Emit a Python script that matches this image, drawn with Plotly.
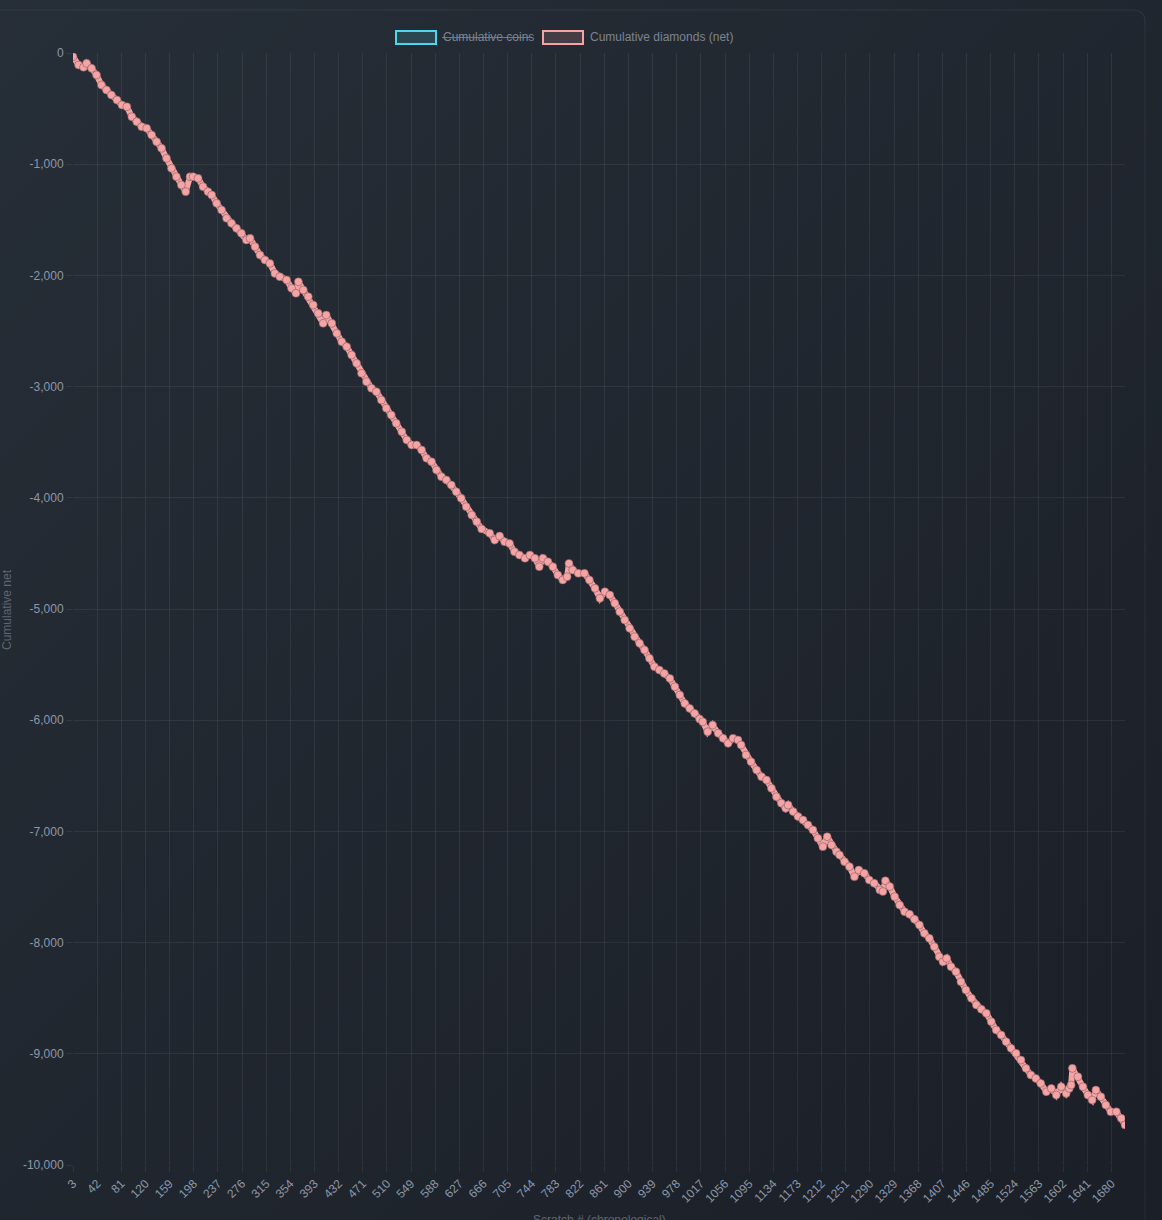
import base64
import plotly.graph_objects as go

# ---- data ----
scratch = [3, 12, 20, 25, 33, 41, 49, 57, 65, 74, 82, 90, 98, 106, 114, 122, 130, 138, 146, 154,
           162, 170, 178, 185, 192, 197, 205, 213, 221, 227, 235, 243, 251, 259, 267, 275, 283, 289, 297, 305,
           313, 321, 329, 337,
           348, 356, 363, 367, 375, 383, 391, 399, 407, 412, 421, 429, 437, 445, 453, 461, 469, 477, 485, 493,
           501, 509, 517, 525, 534, 542, 550, 558, 566, 574, 582, 590, 598, 606, 614, 622, 630, 638, 647, 655, 663,
           676, 684, 692, 700, 708, 716, 724, 733, 741, 749, 756, 762, 770, 778, 786, 794, 801, 804, 810, 819,
           829, 837, 846, 854, 862, 870, 878, 886, 894, 902, 910, 918, 926, 934, 942, 950, 958, 967, 975, 983,
           991, 999, 1007,
           1015, 1020, 1028, 1036, 1045, 1053, 1061, 1069, 1077, 1082, 1090, 1098, 1107, 1115, 1123, 1131, 1139,
           1147, 1154, 1158, 1166, 1174, 1182, 1190, 1198, 1206, 1214, 1221, 1228, 1236, 1241, 1249, 1257, 1265,
           1272, 1281, 1289, 1297, 1306, 1311, 1315, 1322, 1330, 1338, 1346,
           1354, 1362, 1370, 1378, 1386, 1394, 1402, 1408, 1414, 1421, 1429, 1437, 1445, 1454, 1462, 1470, 1478,
           1486, 1494, 1502, 1510, 1518, 1526, 1534, 1542, 1550, 1558, 1566, 1575, 1583, 1591, 1599, 1607, 1612,
           1615, 1617, 1626, 1634, 1642, 1649, 1655, 1663, 1671, 1679, 1688, 1696, 1702]

cum_diamonds = [-33, -108, -129, -93, -138, -198, -288, -333, -378, -423,
                -468, -483, -573, -618, -663, -677, -737, -798, -857, -947,
                -1037, -1112, -1187, -1247, -1112, -1112, -1127, -1202, -1247, -1277,
                -1352, -1412, -1487, -1532, -1577, -1622, -1682, -1667, -1742, -1817,
                -1862, -1892, -1982, -2012,
                -2041, -2116, -2161, -2057, -2131, -2191, -2266, -2341, -2431, -2356,
                -2431, -2521, -2596, -2641, -2716, -2791, -2881, -2956, -3015, -3046,
                -3121, -3195, -3256, -3330, -3406, -3480, -3525, -3525, -3570, -3645,
                -3675, -3750, -3810, -3840, -3885, -3945, -4005, -4080, -4155, -4215, -4280,
                -4319, -4380, -4344, -4395, -4410, -4485, -4515, -4544, -4515, -4544,
                -4620, -4544, -4575, -4620, -4694, -4739, -4710, -4590, -4649, -4679,
                -4679, -4739, -4814, -4904, -4844, -4874, -4949, -5024, -5099, -5174,
                -5249, -5309, -5369, -5444, -5519, -5549, -5579, -5624, -5699, -5774,
                -5849, -5894, -5939,
                -5990, -6014, -6104, -6044, -6118, -6163, -6208, -6163, -6178, -6223,
                -6313, -6373, -6448, -6508, -6538, -6613, -6688, -6747, -6792, -6763,
                -6822, -6867, -6897, -6942, -6987, -7062, -7137, -7047, -7122, -7182,
                -7212, -7272, -7317, -7407, -7347, -7377, -7437, -7466, -7526, -7541,
                -7444, -7496, -7587, -7662, -7722,
                -7745, -7790, -7842, -7917, -7962, -8037, -8127, -8172, -8142, -8217,
                -8262, -8352, -8426, -8501, -8561, -8600, -8636, -8711, -8786, -8831,
                -8891, -8951, -8996, -9056, -9131, -9191, -9221, -9266, -9341, -9311,
                -9371, -9296, -9356, -9311, -9281, -9131, -9206, -9296, -9371, -9416,
                -9326, -9386, -9461, -9521, -9521, -9580, -9640]

x_tick_start = 3
x_tick_step = 39
y_ticks = [0, -1000, -2000, -3000, -4000, -5000, -6000, -7000, -8000, -9000, -10000]
y_tick_text = [f"{v:,}" for v in y_ticks]
series_names = ["Cumulative coins", "Cumulative diamonds (net)"]

# ---- layout geometry (pixels) ----
W, H = 1162, 1220
L, R, T, B = 73, 37, 53, 55
PW, PH = W - L - R, H - T - B


def px(x):
    return (x - L) / PW


def py(y):
    return (H - B - y) / PH


grid = "rgba(255,255,255,0.07)"
tick_font = dict(family="Liberation Sans, Arial, sans-serif", size=12, color="#8d97a8")
pink = "#f6a3a3"

fig = go.Figure()
fig.add_trace(go.Scatter(
    x=scratch, y=cum_diamonds, mode="lines+markers", name=series_names[1],
    line=dict(color=pink, width=6),
    marker=dict(size=8, color=pink, line=dict(color="rgba(120,88,96,0.55)", width=1)),
    showlegend=False, hoverinfo="x+y",
))

# background gradient as inline svg image
svg = ('<svg xmlns="http://www.w3.org/2000/svg" width="1162" height="1220">'
       '<defs><linearGradient id="g" x1="0" y1="0" x2="1" y2="1">'
       '<stop offset="0" stop-color="#262e37"/><stop offset="1" stop-color="#1b1f27"/>'
       '</linearGradient></defs><rect width="1162" height="1220" fill="url(#g)"/></svg>')
src = "data:image/svg+xml;base64," + base64.b64encode(svg.encode()).decode()

shapes = []
# card border
shapes.append(dict(type="path", xref="paper", yref="paper",
                   path=f"M {px(-5)},{py(10)} L {px(1133)},{py(10)} Q {px(1145)},{py(10)} {px(1145)},{py(22)} L {px(1145)},{py(1235)}",
                   line=dict(color="rgba(255,255,255,0.07)", width=1), layer="below"))
# legend boxes
shapes.append(dict(type="rect", xref="paper", yref="paper", x0=px(396), x1=px(436), y0=py(44), y1=py(31),
                   line=dict(color="#4fd6ec", width=2), fillcolor="rgba(79,214,236,0.16)"))
shapes.append(dict(type="rect", xref="paper", yref="paper", x0=px(543), x1=px(583), y0=py(44), y1=py(31),
                   line=dict(color=pink, width=2), fillcolor="rgba(246,163,163,0.16)"))
# strike-through of hidden series
shapes.append(dict(type="line", xref="paper", yref="paper", x0=px(442), x1=px(532), y0=py(37.5), y1=py(37.5),
                   line=dict(color="#6f7782", width=1)))

leg_font = dict(family="Liberation Sans, Arial, sans-serif", size=12, color="#7c8490")
annotations = [
    dict(text=series_names[0], xref="paper", yref="paper", x=px(441), y=py(37), xanchor="left",
         yanchor="middle", showarrow=False, font=leg_font),
    dict(text=series_names[1], xref="paper", yref="paper", x=px(588), y=py(37), xanchor="left",
         yanchor="middle", showarrow=False, font=leg_font),
    dict(text="Cumulative net", xref="paper", yref="paper", x=px(7), y=py(610), xanchor="center",
         yanchor="middle", textangle=-90, showarrow=False,
         font=dict(family="Liberation Sans, Arial, sans-serif", size=12, color="#5e6671")),
    dict(text="Scratch # (chronological)", xref="paper", yref="paper", x=px(599), y=py(1211),
         xanchor="center", yanchor="top", showarrow=False,
         font=dict(family="Liberation Sans, Arial, sans-serif", size=12, color="#5e6671")),
]

fig.update_layout(
    width=W, height=H,
    margin=dict(l=L, r=R, t=T, b=B, pad=0),
    paper_bgcolor="#21272f", plot_bgcolor="rgba(0,0,0,0)",
    images=[dict(source=src, xref="paper", yref="paper", x=px(0), y=py(0), sizex=W / PW, sizey=H / PH,
                 xanchor="left", yanchor="top", sizing="stretch", layer="below")],
    shapes=shapes, annotations=annotations,
    showlegend=False,
    xaxis=dict(range=[3, 1702], tick0=x_tick_start, dtick=x_tick_step, tickmode="linear",
               tickangle=-45, tickfont=tick_font, showgrid=True, gridcolor=grid, gridwidth=1,
               zeroline=False, ticks="outside", ticklen=6, tickcolor=grid, showline=False),
    yaxis=dict(range=[-10000, 0], tickmode="array", tickvals=y_ticks, ticktext=y_tick_text,
               tickfont=tick_font, showgrid=True, gridcolor=grid, gridwidth=1, zeroline=False,
               ticks="outside", ticklen=6, tickcolor=grid, showline=False),
    font=dict(family="Liberation Sans, Arial, sans-serif"),
)

fig.write_html(
    "out.html",
    config={"displayModeBar": False},
    post_script="document.body.style.margin='0';document.body.style.background='#21272f';"
                "document.body.style.overflow='hidden';",
)
